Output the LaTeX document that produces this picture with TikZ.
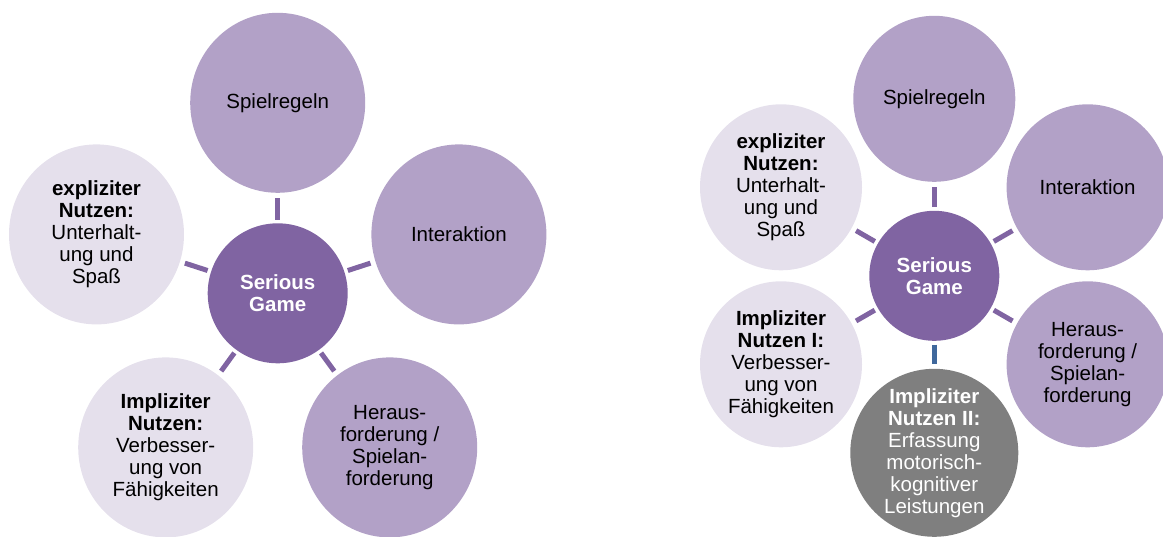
\documentclass[tikz,border=0pt]{standalone}
\usepackage{fontspec}
\setmainfont{Liberation Sans}
\usetikzlibrary{shapes.geometric}
\definecolor{cdark}{HTML}{8064A2}
\definecolor{cmid}{HTML}{B2A1C7}
\definecolor{clight}{HTML}{E5E0EC}
\definecolor{cgray}{HTML}{7F7F7F}
\definecolor{cblue}{HTML}{3F689C}
\begin{document}
\begin{tikzpicture}[x=1pt,y=-1pt,
  bubble/.style={ellipse, inner sep=0pt, draw=none},
  hubL/.style={bubble, fill=cdark, minimum width=140pt, minimum height=140pt},
  hubR/.style={bubble, fill=cdark, minimum width=130pt, minimum height=130pt},
  outL/.style={bubble, minimum width=175pt, minimum height=180pt},
  outR/.style={bubble, minimum width=162pt, minimum height=166pt},
  lbl/.style={align=center, inner sep=0pt, text=black, font=\fontsize{20.5}{22}\selectfont},
  wlbl/.style={lbl, text=white},
  conn/.style={draw=cdark, line width=5pt, shorten <=3.5pt, shorten >=5pt},
  bconn/.style={conn, draw=cblue}
]
\useasboundingbox (0,0) rectangle (1163,536);
\clip (0,0) rectangle (1163,536);

% ---------- left diagram ----------
\node[hubL] (c1) at (277.7,293.3) {};
\node[outL, fill=cmid]   (a1) at (277.7,102.8) {};
\node[outL, fill=cmid]   (a2) at (458.9,234.4) {};
\node[outL, fill=cmid]   (a3) at (389.7,447.4) {};
\node[outL, fill=clight] (a4) at (165.7,447.4) {};
\node[outL, fill=clight] (a5) at (96.5,234.4) {};

\foreach \n in {a1,a2,a3,a4,a5} \draw[conn] (c1) -- (\n);

\node[wlbl] (c1t) at (c1) {\textbf{Serious}\\\textbf{Game}};
\node[lbl] (a1t) at (a1) {Spielregeln};
\node[lbl] (a2t) at (a2) {Interaktion};
\node[lbl] (a3t) at (a3) {Heraus-\\forderung /\\Spielan-\\forderung};
\node[lbl] (a4t) at (a4) {\textbf{Impliziter}\\\textbf{Nutzen:}\\Verbesser-\\ung von\\Fähigkeiten};
\node[lbl] (a5t) at (a5) {\textbf{expliziter}\\\textbf{Nutzen:}\\Unterhalt-\\ung und\\Spaß};

% ---------- right diagram ----------
\node[hubR] (c2) at (934.3,275.8) {};
\node[outR, fill=cmid]   (b1) at (934.3,98.8) {};
\node[outR, fill=cmid]   (b2) at (1087.6,187.3) {};
\node[outR, fill=cmid]   (b3) at (1087.6,364.3) {};
\node[bubble, fill=cgray, minimum width=168pt, minimum height=168pt] (b4) at (934.3,452.8) {};
\node[outR, fill=clight] (b5) at (781.0,364.3) {};
\node[outR, fill=clight] (b6) at (781.0,187.3) {};

\foreach \n in {b1,b2,b3,b5,b6} \draw[conn] (c2) -- (\n);
\draw[bconn] (c2) -- (b4);

\node[wlbl] (c2t) at (c2) {\textbf{Serious}\\\textbf{Game}};
\node[lbl] (b1t) at (b1) {Spielregeln};
\node[lbl] (b2t) at (b2) {Interaktion};
\node[lbl] (b3t) at (b3) {Heraus-\\forderung /\\Spielan-\\forderung};
\node[wlbl] (b4t) at (b4) {\textbf{Impliziter}\\\textbf{Nutzen II:}\\Erfassung\\motorisch-\\kognitiver\\Leistungen};
\node[lbl] (b5t) at (b5) {\textbf{Impliziter}\\\textbf{Nutzen I:}\\Verbesser-\\ung von\\Fähigkeiten};
\node[lbl] (b6t) at (b6) {\textbf{expliziter}\\\textbf{Nutzen:}\\Unterhalt-\\ung und\\Spaß};
\end{tikzpicture}
\end{document}
